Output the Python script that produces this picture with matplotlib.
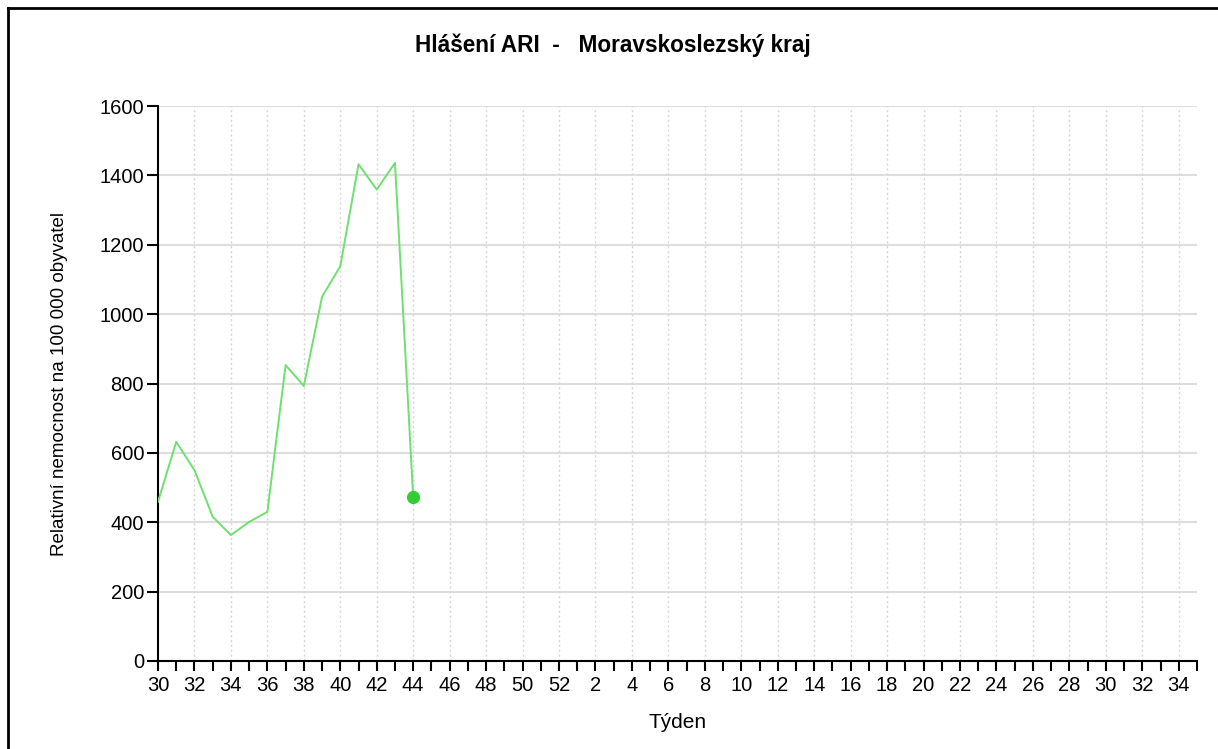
import matplotlib.pyplot as plt
from matplotlib.lines import Line2D

plt.rcParams['font.family'] = ['Liberation Sans', 'DejaVu Sans']

# Týdny: 30..52 a potom 1..35
weeks = list(range(30, 53)) + list(range(1, 36))

# Hlášené hodnoty ARI (týden 30 až 44)
ari_values = [459, 632, 550, 416, 363, 401, 430, 853, 793, 1050, 1138, 1432, 1359, 1436, 472]

y_ticks = [0, 200, 400, 600, 800, 1000, 1200, 1400, 1600]

fig = plt.figure(figsize=(12.18, 7.49), dpi=100)
ax = fig.add_axes([158 / 1218, 1 - 661 / 749, (1197 - 158) / 1218, (661 - 106) / 749])

x = list(range(len(weeks)))
n = len(ari_values)
ax.plot(x[:n], ari_values, color='#6ee06e', linewidth=1.4, zorder=3)
ax.plot(x[n - 1], ari_values[-1], 'o', color='#33cc33', markersize=8.5, zorder=4)

ax.set_xlim(0, len(weeks) - 1)
ax.set_ylim(0, 1600)
ax.set_yticks(y_ticks)
ax.set_xticks(x)
ax.set_xticklabels([str(w) if i % 2 == 0 else '' for i, w in enumerate(weeks)])

ax.grid(axis='y', color='#dddddd', linewidth=1.5, linestyle='-')
for i in x[2:-1:2]:
    ax.axvline(i, color='#d6d6d6', linewidth=1, linestyle=(0, (1.5, 2)), zorder=1)
ax.set_axisbelow(True)

for s in ['top', 'right']:
    ax.spines[s].set_visible(False)
for s in ['left', 'bottom']:
    ax.spines[s].set_linewidth(1.5)
ax.tick_params(axis='y', direction='out', length=8, width=1.5, labelsize=14.5, pad=2)
ax.tick_params(axis='x', direction='out', length=7, width=1.5, labelsize=14.5, pad=4)

ax.set_xlabel('Týden', fontsize=15, va='center')
ax.xaxis.set_label_coords(0.5, (661 - 722) / 555)
ax.set_ylabel('Relativní nemocnost na 100 000 obyvatel', fontsize=13.5, va='center')
ax.yaxis.set_label_coords((60 - 158) / 1039, 0.5)
fig.text(0.503, 1 - 45 / 749, 'Hlášení ARI  -   Moravskoslezský kraj',
         ha='center', va='center', fontsize=16.3, fontweight='bold')

# rámeček obrázku (horní a levá hrana)
fig.add_artist(Line2D([8 / 1218, 8 / 1218], [0, 1 - 8 / 749], transform=fig.transFigure, color='black', linewidth=2))
fig.add_artist(Line2D([8 / 1218, 1], [1 - 8 / 749, 1 - 8 / 749], transform=fig.transFigure, color='black', linewidth=2))

fig.savefig('out.png', dpi=100)
